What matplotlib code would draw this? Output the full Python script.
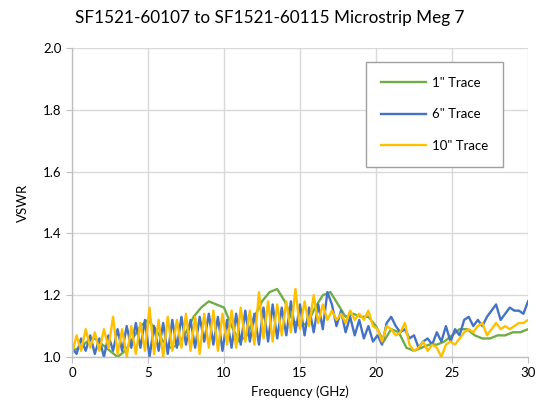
import matplotlib
matplotlib.use("Agg")
import matplotlib.pyplot as plt

plt.rcParams['font.family'] = ['Lato', 'DejaVu Sans']

# green trace (1") sampled every 0.5 GHz
freq_1in = [0.0, 0.5, 1.0, 1.5, 2.0, 2.5, 3.0, 3.5, 4.0, 4.5,
            5.0, 5.5, 6.0, 6.5, 7.0, 7.5, 8.0, 8.5, 9.0, 9.5,
            10.0, 10.5, 11.0, 11.5, 12.0, 12.5, 13.0, 13.5, 14.0, 14.5,
            15.0, 15.5, 16.0, 16.5, 17.0, 17.5, 18.0, 18.5, 19.0, 19.5,
            20.0, 20.5, 21.0, 21.5, 22.0, 22.5, 23.0, 23.5, 24.0, 24.5,
            25.0, 25.5, 26.0, 26.5, 27.0, 27.5, 28.0, 28.5, 29.0, 29.5, 30.0]
vswr_1in = [1.02, 1.03, 1.05, 1.06, 1.04, 1.02, 1.00, 1.02, 1.06, 1.10,
            1.12, 1.09, 1.05, 1.03, 1.04, 1.08, 1.13, 1.16, 1.18, 1.17,
            1.16, 1.10, 1.05, 1.07, 1.13, 1.18, 1.21, 1.22, 1.18, 1.12,
            1.10, 1.11, 1.16, 1.20, 1.21, 1.17, 1.13, 1.14, 1.13, 1.13,
            1.10, 1.05, 1.09, 1.08, 1.03, 1.02, 1.03, 1.04, 1.04, 1.05,
            1.07, 1.09, 1.09, 1.07, 1.06, 1.06, 1.07, 1.07, 1.08, 1.08, 1.09]

# 6" and 10" traces sampled every 0.3 GHz
freq = [0.0, 0.3, 0.6, 0.9, 1.2, 1.5, 1.8, 2.1, 2.4, 2.7,
        3.0, 3.3, 3.6, 3.9, 4.2, 4.5, 4.8, 5.1, 5.4, 5.7,
        6.0, 6.3, 6.6, 6.9, 7.2, 7.5, 7.8, 8.1, 8.4, 8.7,
        9.0, 9.3, 9.6, 9.9, 10.2, 10.5, 10.8, 11.1, 11.4, 11.7,
        12.0, 12.3, 12.6, 12.9, 13.2, 13.5, 13.8, 14.1, 14.4, 14.7,
        15.0, 15.3, 15.6, 15.9, 16.2, 16.5, 16.8, 17.1, 17.4, 17.7,
        18.0, 18.3, 18.6, 18.9, 19.2, 19.5, 19.8, 20.1, 20.4, 20.7,
        21.0, 21.3, 21.6, 21.9, 22.2, 22.5, 22.8, 23.1, 23.4, 23.7,
        24.0, 24.3, 24.6, 24.9, 25.2, 25.5, 25.8, 26.1, 26.4, 26.7,
        27.0, 27.3, 27.6, 27.9, 28.2, 28.5, 28.8, 29.1, 29.4, 29.7, 30.0]
vswr_6in = [1.03, 1.01, 1.06, 1.02, 1.07, 1.01, 1.06, 1.00, 1.07, 1.02,
            1.09, 1.02, 1.10, 1.03, 1.11, 1.03, 1.12, 1.00, 1.10, 1.02,
            1.11, 1.01, 1.12, 1.03, 1.13, 1.04, 1.12, 1.03, 1.13, 1.05,
            1.14, 1.04, 1.13, 1.02, 1.12, 1.03, 1.14, 1.04, 1.15, 1.05,
            1.14, 1.04, 1.16, 1.05, 1.17, 1.06, 1.16, 1.07, 1.18, 1.08,
            1.17, 1.07, 1.16, 1.08, 1.17, 1.09, 1.21, 1.17, 1.10, 1.15,
            1.08, 1.13, 1.07, 1.12, 1.06, 1.10, 1.05, 1.07, 1.04, 1.11,
            1.13, 1.10, 1.08, 1.09, 1.06, 1.07, 1.03, 1.05, 1.06, 1.04,
            1.08, 1.05, 1.10, 1.05, 1.09, 1.07, 1.12, 1.13, 1.10, 1.12,
            1.10, 1.13, 1.15, 1.17, 1.12, 1.14, 1.16, 1.15, 1.15, 1.14, 1.18]
vswr_10in = [1.01, 1.07, 1.02, 1.09, 1.03, 1.08, 1.02, 1.09, 1.03, 1.13,
             1.01, 1.09, 1.00, 1.10, 1.01, 1.11, 1.02, 1.16, 1.01, 1.12,
             1.00, 1.13, 1.02, 1.12, 1.03, 1.14, 1.02, 1.13, 1.01, 1.14,
             1.03, 1.15, 1.02, 1.14, 1.04, 1.15, 1.03, 1.16, 1.05, 1.15,
             1.04, 1.21, 1.06, 1.18, 1.05, 1.17, 1.07, 1.18, 1.08, 1.22,
             1.09, 1.18, 1.10, 1.20, 1.11, 1.17, 1.12, 1.15, 1.12, 1.14,
             1.11, 1.15, 1.12, 1.14, 1.12, 1.15, 1.10, 1.09, 1.05, 1.10,
             1.09, 1.07, 1.08, 1.11, 1.04, 1.02, 1.03, 1.05, 1.02, 1.04,
             1.03, 1.00, 1.04, 1.05, 1.04, 1.06, 1.08, 1.09, 1.08, 1.10,
             1.11, 1.07, 1.09, 1.11, 1.09, 1.10, 1.09, 1.10, 1.11, 1.11, 1.12]

x_ticks = [0, 5, 10, 15, 20, 25, 30]
y_ticks = [1.0, 1.2, 1.4, 1.6, 1.8, 2.0]

fig = plt.figure(figsize=(5.4, 4.15), dpi=100)
ax = fig.add_axes([72/540, 1-357/415, 456/540, 309/415])

lw = 1.7
ax.plot(freq_1in, vswr_1in, color='#70AD47', lw=lw, label='1" Trace')
ax.plot(freq, vswr_6in, color='#4472C4', lw=lw, label='6" Trace')
ax.plot(freq, vswr_10in, color='#FFC000', lw=lw, label='10" Trace')

ax.set_xlim(0, 30)
ax.set_ylim(1.0, 2.0)
ax.set_xticks(x_ticks)
ax.set_yticks(y_ticks)
ax.set_yticklabels(['%.1f' % v for v in y_ticks])
ax.grid(True, color='#D9D9D9', lw=1.0)
ax.set_axisbelow(True)
for s in ['top', 'right']:
    ax.spines[s].set_visible(False)
for s in ['left', 'bottom']:
    ax.spines[s].set_color('#BFBFBF')
    ax.spines[s].set_linewidth(1.0)
ax.tick_params(colors='#BFBFBF', labelcolor='#000000', labelsize=9.5, length=4)

ax.set_xlabel('Frequency (GHz)', fontsize=9.5, labelpad=4)
ax.set_ylabel('VSWR', fontsize=9.5, labelpad=10)
fig.text(0.5, 1-18/415, 'SF1521-60107 to SF1521-60115 Microstrip Meg 7',
         ha='center', va='center', fontsize=12.3)

leg = ax.legend(loc='upper right', bbox_to_anchor=(503/540, 1-62/415),
                bbox_transform=fig.transFigure, borderaxespad=0,
                fontsize=9.5, labelspacing=1.5, handlelength=3.4,
                handletextpad=0.5, borderpad=1.1, fancybox=False,
                framealpha=1)
leg.get_frame().set_edgecolor('#A0A0A0')
leg.get_frame().set_linewidth(1.0)

fig.savefig('out.png', dpi=100)
